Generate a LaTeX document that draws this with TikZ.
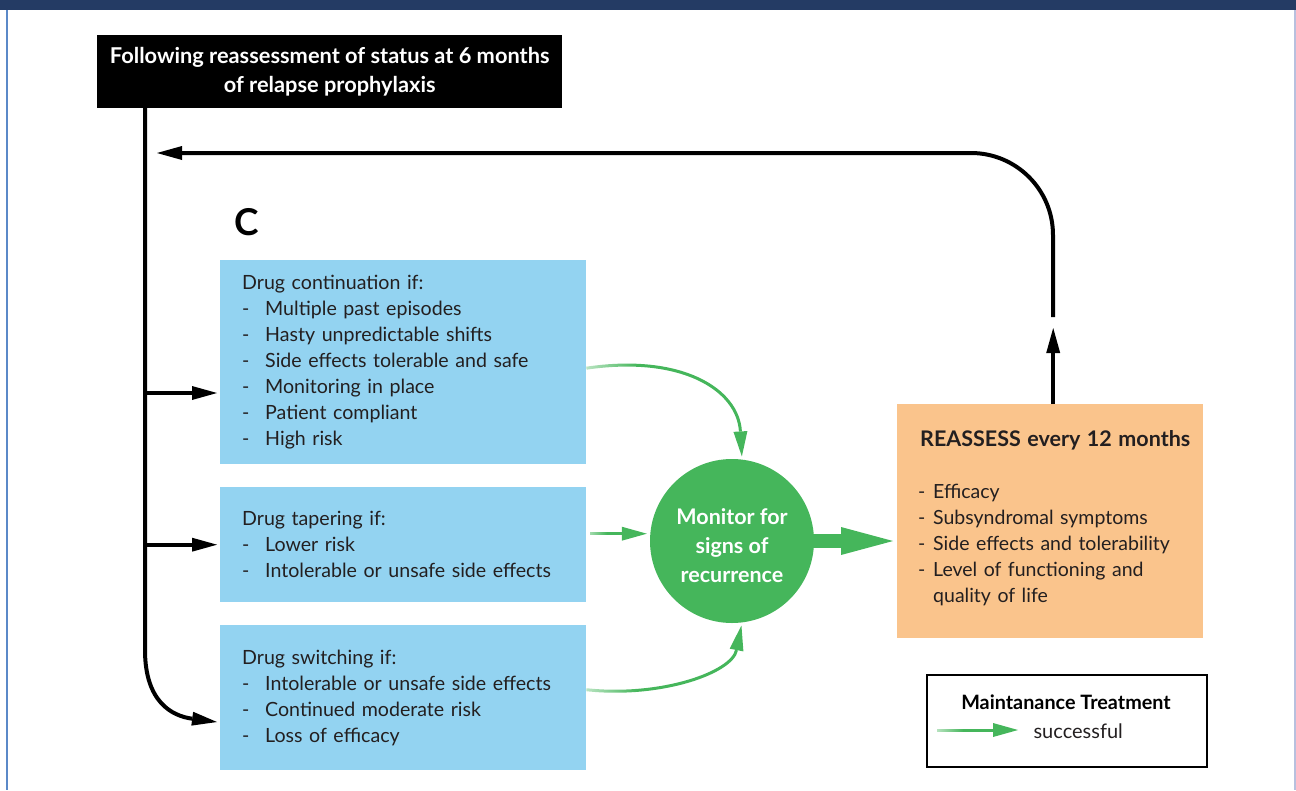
\documentclass[tikz,border=0pt]{standalone}
\usepackage{fontspec}
\setmainfont{Lato}
\usetikzlibrary{arrows.meta,calc,fadings}

\definecolor{navybar}{RGB}{36,59,100}
\definecolor{frameblue}{RGB}{91,137,200}
\definecolor{framelight}{RGB}{184,192,222}
\definecolor{boxblue}{RGB}{147,211,241}
\definecolor{boxorange}{RGB}{250,196,140}
\definecolor{monigreen}{RGB}{69,182,91}
\definecolor{inkgray}{RGB}{35,31,32}

\newcommand{\dashline}[1]{\makebox[23pt][l]{-}#1}
\newcommand{\shortdash}[1]{\makebox[15pt][l]{-}#1}

\begin{tikzfadingfrompicture}[name=fadein]
  \shade[left color=transparent!100,right color=transparent!0] (-1.2cm,-1.2cm) rectangle (-0.3cm,1.2cm);
  \fill[transparent!0] (-0.3cm,-1.2cm) rectangle (1.2cm,1.2cm);
\end{tikzfadingfrompicture}

\tikzset{
  flow/.style={line width=4pt,-{Triangle[length=25pt,width=14pt,line width=0pt]}},
  green flow/.style={monigreen,line width=3pt,path fading=fadein,
    -{Triangle[length=25pt,width=14pt,line width=0pt]}},
  drugbox/.style={fill=boxblue,minimum width=366pt,text width=322pt,
    inner xsep=22pt,inner ysep=0pt,align=left,anchor=north west,text=inkgray,
    font=\fontsize{19.6}{26}\selectfont},
}

\begin{document}
\begin{tikzpicture}[x=1pt,y=-1pt]
\useasboundingbox (0,0) rectangle (1296,790);
% frame
\fill[navybar] (0,0) rectangle (1296,10);
\draw[frameblue,line width=2pt] (7,10) -- (7,790);
\draw[framelight,line width=2pt] (1295,10) -- (1295,790);

\node[fill=black,text=white,minimum width=465pt,minimum height=73pt,anchor=north west,
  align=center,font=\fontsize{21.8}{29}\selectfont\bfseries] (head) at (97,35)
  {Following reassessment of status at 6 months\\of relapse prophylaxis};

\node[font=\fontsize{37}{37}\selectfont\bfseries] (panel) at (247,222) {C};

\node[drugbox,minimum height=204pt] (cont) at (220,260)
  {Drug continuation if:\\
   \dashline{Multiple past episodes}\\
   \dashline{Hasty unpredictable shifts}\\
   \dashline{Side effects tolerable and safe}\\
   \dashline{Monitoring in place}\\
   \dashline{Patient compliant}\\
   \dashline{High risk}};
\node[drugbox,minimum height=115pt] (taper) at (220,487)
  {Drug tapering if:\\
   \dashline{Lower risk}\\
   \dashline{Intolerable or unsafe side effects}};
\node[drugbox,minimum height=145pt] (switch) at (220,625)
  {Drug switching if:\\
   \dashline{Intolerable or unsafe side effects}\\
   \dashline{Continued moderate risk}\\
   \dashline{Loss of efficacy}};

\node[circle,fill=monigreen,minimum size=164pt,inner sep=0pt,text=white,align=center,
  font=\fontsize{21.5}{29}\selectfont\bfseries] (mon) at (732,541)
  {\rule{0pt}{25pt}Monitor for\\signs of\\recurrence};

\node[fill=boxorange,minimum width=306pt,minimum height=234pt,text width=264pt,
  inner xsep=21pt,anchor=north west,align=left,text=inkgray,
  font=\fontsize{19.5}{26}\selectfont] (reass) at (897,404)
  {\hspace*{2pt}\mbox{\fontsize{21.5}{26}\selectfont\bfseries REASSESS every 12 months}\\[26pt]
   \shortdash{Efficacy}\\
   \shortdash{Subsyndromal symptoms}\\
   \shortdash{Side effects and tolerability}\\
   \shortdash{Level of functioning and}\\
   \hspace*{15pt}quality of life\rule[-10pt]{0pt}{0pt}};

% legend
\node[draw,line width=2pt,minimum width=280pt,minimum height=92pt,anchor=north west] (legend) at (926,674) {};
\node[font=\fontsize{19.8}{22}\selectfont\bfseries] (legtitle) at (1066,702) {Maintanance Treatment};
\coordinate (legfrom) at (937,730);
\coordinate (legto) at (1018,730);
\node[anchor=west,text=inkgray,font=\fontsize{20}{22}\selectfont] (legtext) at (1030,731) {successful};
\draw[green flow] ([yshift=10pt]legfrom) ([yshift=-10pt]legfrom) (legfrom) -- (legto);

% black trunk and branches
\coordinate (trunktop) at (145,108);
\coordinate (back) at (157,153);
\draw[flow] (trunktop) -- (145,650) .. controls (145,702) and (172,716) .. ($(switch.west |- 0,722)+(-3,0)$);
\draw[flow] (trunktop |- 0,393) -- ($(cont.west |- 0,393)+(-3,0)$);
\draw[flow] (trunktop |- taper.west) -- ($(taper.west)+(-3,0)$);

% reassess loop
\coordinate (up) at ([xshift=3pt]reass.north);
\coordinate (gaptop) at (1053,317);
\draw[flow] (up) -- ++(0,-76);
\draw[flow,rounded corners=82pt] (gaptop) |- (back);

% green arrows into monitoring
\coordinate (contout) at ([yshift=-6pt]cont.east);
\coordinate (tapout) at ([yshift=11pt]taper.east);
\coordinate (switchout) at ([yshift=8pt]switch.east);
\draw[green flow,shorten >=3pt] (contout) .. controls +(95,-14) and +(-4,-70) .. (mon.83);
\draw[green flow,shorten >=3pt] ([yshift=10pt]tapout) ([yshift=-10pt]tapout) ([xshift=4pt]tapout) -- (tapout -| mon.west);
\draw[green flow,shorten >=3pt] (switchout) .. controls +(75,8) and +(-10,50) .. (mon.-83);

% main output
\draw[monigreen,line width=14pt,-{Triangle[length=52pt,width=28pt,line width=0pt]},shorten >=4pt]
  ([xshift=-4pt]mon.east) -- (mon.east -| reass.west);
\end{tikzpicture}
\end{document}
